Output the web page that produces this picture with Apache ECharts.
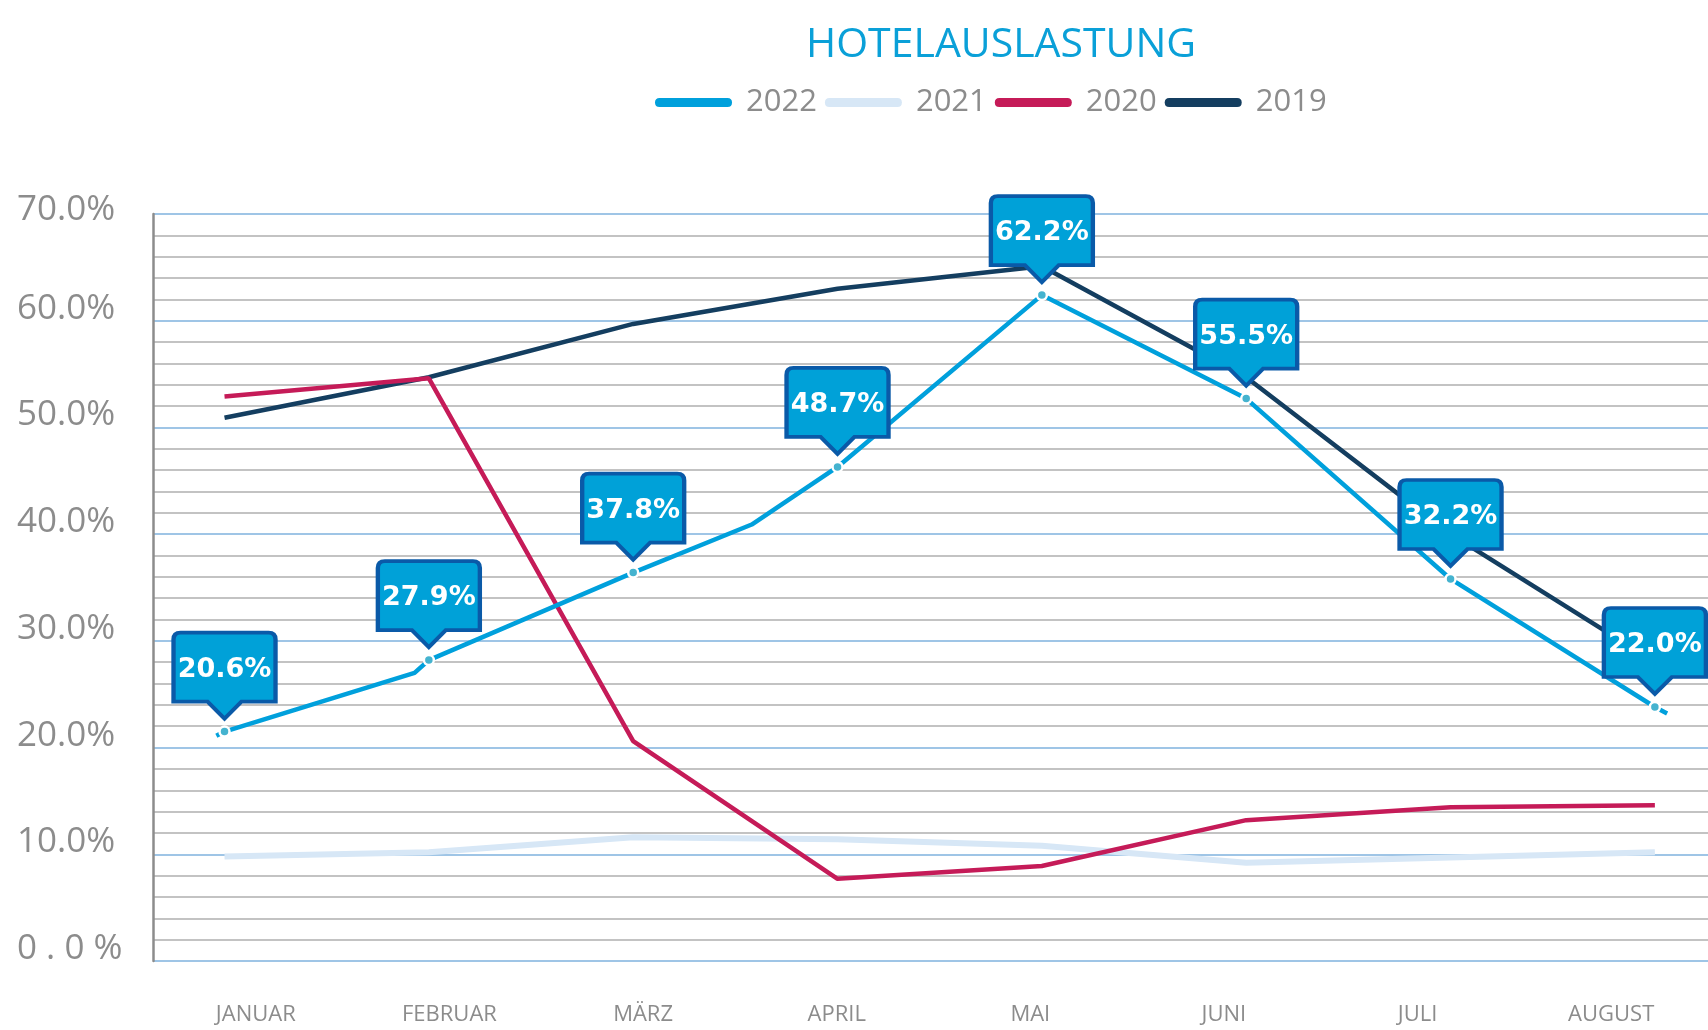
<!DOCTYPE html>
<html>
<head>
    <meta charset="utf-8">
    <script src="https://cdn.jsdelivr.net/npm/echarts@6/dist/echarts.min.js"></script>
    <style>
        html, body { margin: 0; padding: 0; background: #fff; }
    </style>
</head>
<body>
    <div id="main" style="width: 1708px;height:1030px;"></div>
    <script type="text/javascript">
        // Monate und Werte
        var months = ['JANUAR', 'FEBRUAR', 'MÄRZ', 'APRIL', 'MAI', 'JUNI', 'JULI', 'AUGUST']
        var yLabels = ['0 . 0 %', '10.0%', '20.0%', '30.0%', '40.0%', '50.0%', '60.0%', '70.0%']

        var v2022 = [21.5, 28.2, 36.4, 46.3, 62.4, 52.7, 35.8, 23.8]
        var lbl2022 = ['20.6%', '27.9%', '37.8%', '48.7%', '62.2%', '55.5%', '32.2%', '22.0%']
        // Knickpunkte der 2022-Linie ohne Marker [Monatsindex, Wert]
        var bend2022 = [[-0.04, 21.1], [0.93, 27.0], [2.58, 40.9], [7.06, 23.2]]
        var v2021 = [9.8, 10.2, 11.6, 11.4, 10.8, 9.2, 9.7, 10.2]
        var v2020 = [52.9, 54.6, 20.6, 7.7, 8.9, 13.2, 14.4, 14.6]
        var v2019 = [50.9, 54.7, 59.7, 63.0, 65.1, 54.7, 40.0, 28.0]

        var grey = '#8c8c8c'
        var cBlue = '#00a0dc', cLight = '#d7e7f6', cRed = '#c51b58', cNavy = '#143e60'

        function pairs(arr) {
            return arr.map(function (v, i) { return [i, v] })
        }

        // 2022-Linie: Monatspunkte mit Marker + Knickpunkte ohne Marker
        var line2022 = v2022.map(function (v, i) { return { value: [i, v] } })
            .concat(bend2022.map(function (p) { return { value: p, symbol: 'none' } }))
            .sort(function (a, b) { return a.value[0] - b.value[0] })

        var myChart = echarts.init(document.getElementById('main'))

        var capsule = 'path://M4.5,0 L72.5,0 Q77,0 77,4.5 Q77,9 72.5,9 L4.5,9 Q0,9 0,4.5 Q0,0 4.5,0 Z'
        var bubble = 'path://M0,69 L0,7 Q0,0 7,0 L95,0 Q102,0 102,7 L102,69 L68,69 L51,86 L34,69 Z'

        var option = {
            animation: false,
            backgroundColor: '#fff',
            title: {
                text: 'HOTELAUSLASTUNG',
                left: 801,
                top: 20,
                textStyle: {
                    color: '#0aa0d8',
                    fontSize: 41,
                    fontWeight: 'normal',
                    fontFamily: 'Open Sans'
                }
            },
            legend: {
                left: 650,
                top: 82,
                icon: capsule,
                symbolKeepAspect: false,
                itemWidth: 77,
                itemHeight: 9,
                itemGap: 8,
                selectedMode: false,
                textStyle: {
                    color: grey,
                    fontSize: 31,
                    fontFamily: 'Open Sans',
                    padding: [0, 0, 0, 9]
                },
                data: [
                    { name: '2022', itemStyle: { color: cBlue, borderWidth: 0 } },
                    { name: '2021', itemStyle: { color: cLight, borderWidth: 0 } },
                    { name: '2020', itemStyle: { color: cRed, borderWidth: 0 } },
                    { name: '2019', itemStyle: { color: cNavy, borderWidth: 0 } }
                ]
            },
            grid: [
                { left: 153, right: 0, top: 214, bottom: 69 },
                // nur für die Monatsbeschriftung
                { left: 159, width: 1560, top: 214, bottom: 69 }
            ],
            xAxis: [
                { // Werteachse für die Linien (unsichtbar)
                    type: 'value',
                    gridIndex: 0,
                    min: -0.35,
                    max: 7.26,
                    axisLine: { show: false },
                    axisTick: { show: false },
                    splitLine: { show: false },
                    axisLabel: { show: false }
                },
                { // Monatsbeschriftung
                    type: 'category',
                    gridIndex: 1,
                    data: months,
                    boundaryGap: true,
                    axisLine: { show: false },
                    axisTick: { show: false },
                    splitLine: { show: false },
                    axisLabel: {
                        color: grey,
                        fontSize: 22,
                        fontFamily: 'Open Sans',
                        margin: 43
                    }
                }
            ],
            yAxis: [
                {
                    type: 'value',
                    gridIndex: 0,
                    min: 0,
                    max: 70,
                    interval: 2,
                    axisLine: { show: false },
                    axisTick: { show: false },
                    axisLabel: {
                        align: 'left',
                        verticalAlign: 'bottom',
                        lineHeight: 24,
                        margin: 136,
                        color: grey,
                        fontSize: 35,
                        fontFamily: 'Open Sans',
                        formatter: function (v) {
                            var r = Math.round(v)
                            if (r % 10 !== 0) return ''
                            return r === 70 ? '{top|' + yLabels[7] + '}' : yLabels[r / 10]
                        },
                        rich: {
                            top: { lineHeight: 8, fontSize: 35, color: grey, fontFamily: 'Open Sans' }
                        }
                    },
                    splitLine: {
                        lineStyle: {
                            // jede 10% blau, dazwischen grau
                            color: ['#9fc5e6', '#c3c3c3', '#c3c3c3', '#c3c3c3', '#c3c3c3'],
                            width: 2
                        }
                    }
                },
                { // nur die Achsenlinie, etwas über 70% hinaus
                    type: 'value',
                    gridIndex: 0,
                    position: 'left',
                    min: 0,
                    max: 71.8,
                    axisLine: { show: true, lineStyle: { color: grey, width: 2.5 } },
                    axisTick: { show: false },
                    axisLabel: { show: false },
                    splitLine: { show: false }
                },
                { type: 'value', gridIndex: 1, show: false }
            ],
            series: [
                {
                    name: '2021',
                    type: 'line',
                    data: pairs(v2021),
                    showSymbol: false,
                    lineStyle: { color: cLight, width: 6 },
                    itemStyle: { color: cLight }
                },
                {
                    name: '2019',
                    type: 'line',
                    data: pairs(v2019),
                    showSymbol: false,
                    lineStyle: { color: cNavy, width: 4.5 },
                    itemStyle: { color: cNavy }
                },
                {
                    name: '2020',
                    type: 'line',
                    data: pairs(v2020),
                    showSymbol: false,
                    lineStyle: { color: cRed, width: 4.5 },
                    itemStyle: { color: cRed }
                },
                {
                    name: '2022',
                    type: 'line',
                    data: line2022,
                    symbol: 'circle',
                    symbolSize: 10,
                    lineStyle: { color: cBlue, width: 4.5 },
                    itemStyle: { color: '#45b3cf', borderColor: '#fff', borderWidth: 2.5 }
                },
                { // Sprechblasen mit den 2022-Werten
                    name: 'callout',
                    type: 'scatter',
                    data: pairs(v2022),
                    symbol: bubble,
                    symbolSize: [102, 86],
                    symbolOffset: [0, -56],
                    silent: true,
                    z: 5,
                    itemStyle: {
                        color: '#00a1d8',
                        borderColor: '#0a5aa8',
                        borderWidth: 4,
                        opacity: 1
                    },
                    label: {
                        show: true,
                        position: 'inside',
                        offset: [0, -6],
                        color: '#fff',
                        fontSize: 27,
                        fontWeight: 'bold',
                        fontFamily: 'DejaVu Sans',
                        formatter: function (p) { return lbl2022[p.dataIndex] }
                    }
                }
            ]
        }
        myChart.setOption(option)
    </script>
</body>
</html>
